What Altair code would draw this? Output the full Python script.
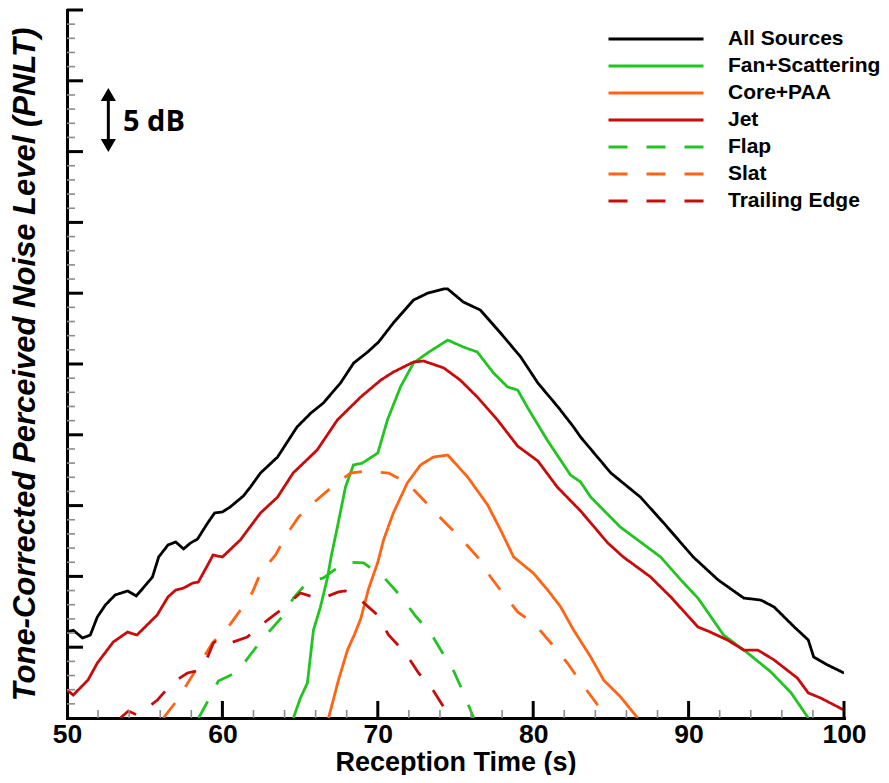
import altair as alt
import pandas as pd

# ---------------- data ----------------
series_names = ["All Sources", "Fan+Scattering", "Core+PAA", "Jet",
                "Flap", "Slat", "Trailing Edge"]
series_colors = ["#000000", "#22C422", "#FF6414", "#C80C0C",
                 "#22C422", "#FF6414", "#C80C0C"]
series_dash = [[1, 0], [1, 0], [1, 0], [1, 0], [19, 19], [19, 19], [19, 19]]

all_x = [50.0, 50.4, 51.0, 51.5, 51.95, 52.47, 53.1, 53.9, 54.45, 54.9, 55.5, 55.9, 56.5,
         57.0, 57.5, 57.95, 58.4, 59.05, 59.5, 60.0, 60.5, 61.35, 61.8, 62.45, 63.55, 64.8,
         65.7, 66.5, 67.6, 68.45, 69.35, 70.05, 71.0, 72.3, 73.2, 74.25, 74.5, 75.5, 76.6,
         77.9, 79.2, 80.3, 81.6, 82.6, 83.05, 85.0, 86.9, 88.4, 90.3, 91.9, 93.55, 94.65,
         95.5, 96.8, 97.7, 98.05, 98.95, 100.0]
all_y = [6.07, 6.2, 5.65, 5.86, 7.13, 7.98, 8.69, 8.97, 8.62, 9.18, 9.96, 11.37, 12.22,
         12.43, 11.94, 12.36, 12.64, 13.77, 14.48, 14.55, 14.9, 15.68, 16.31, 17.3, 18.43,
         20.55, 21.54, 22.25, 23.66, 25.07, 25.85, 26.55, 27.9, 29.52, 30.0, 30.3, 30.3,
         29.38, 28.81, 27.19, 25.49, 23.66, 21.96, 20.55, 19.84, 17.3, 15.6, 13.77, 11.37,
         9.75, 8.47, 8.33, 7.84, 6.43, 5.51, 4.31, 3.74, 3.18]

fan_x = [64.57, 65.02, 65.47, 65.86, 66.3, 66.76, 67.0, 67.4, 67.92, 68.43, 69.0, 70.0,
         70.62, 71.46, 72.3, 73.2, 74.5, 75.5, 76.4, 77.45, 78.35, 79.0, 79.65, 80.9, 82.4,
         83.05, 83.7, 85.6, 88.2, 89.5, 90.6, 92.25, 93.8, 95.3, 96.6, 97.7]
fan_y = [0.0, 1.41, 2.47, 6.21, 7.8, 9.9, 11.4, 13.49, 16.31, 17.87, 18.0, 18.71, 21.05,
         23.38, 25.07, 25.78, 26.69, 26.2, 25.85, 24.36, 23.38, 23.16, 21.9, 19.63, 17.16,
         16.67, 15.6, 13.49, 11.37, 9.75, 8.47, 5.86, 4.59, 3.25, 1.77, 0.0]

core_x = [66.83, 67.47, 68.05, 68.5, 68.9, 69.4, 70.0, 70.37, 71.0, 71.9, 72.75, 73.58,
          74.5, 75.78, 77.07, 77.9, 78.74, 80.0, 80.93, 81.77, 82.6, 83.7, 84.53, 85.63,
          86.72]
core_y = [0.0, 2.68, 4.8, 5.9, 7.0, 9.1, 11.0, 12.57, 14.48, 16.6, 17.87, 18.43, 18.57,
          17.02, 15.04, 13.28, 11.37, 10.24, 9.04, 7.84, 6.21, 4.31, 2.68, 1.48, 0.0]

jet_x = [50.0, 50.4, 51.35, 51.95, 52.98, 53.9, 54.5, 55.8, 56.5, 57.0, 57.5, 58.1, 58.45,
         59.05, 59.4, 60.0, 61.15, 62.45, 63.55, 64.55, 66.1, 67.4, 68.9, 70.2, 71.0, 72.3,
         72.95, 74.25, 75.3, 76.4, 77.7, 79.0, 80.3, 81.55, 83.05, 84.8, 85.8, 87.55, 88.85,
         90.6, 91.25, 92.5, 93.55, 94.45, 95.5, 97.0, 97.7, 98.5, 100.0]
jet_y = [1.98, 1.62, 2.68, 3.88, 5.37, 6.07, 5.86, 7.27, 8.55, 9.04, 9.18, 9.53, 9.6, 10.8,
         11.51, 11.37, 12.57, 14.48, 15.6, 17.3, 18.93, 21.05, 22.67, 23.87, 24.43, 25.14,
         25.21, 24.72, 23.87, 22.67, 21.05, 19.2, 18.15, 16.31, 14.62, 12.36, 11.37, 9.96,
         8.55, 6.43, 6.14, 5.51, 4.8, 4.8, 4.1, 2.82, 1.77, 1.41, 0.56]

flap_x = [58.47, 59.1, 59.74, 60.97, 61.93, 62.64, 63.73, 64.57, 65.47, 66.5, 67.92, 69.08,
          70.37, 71.46, 72.43, 73.4, 74.17, 74.88, 75.46, 76.17]
flap_y = [0.0, 1.27, 2.61, 3.25, 4.66, 5.65, 6.99, 8.47, 9.6, 9.89, 11.02, 10.95, 9.96,
          8.62, 7.2, 6.0, 4.59, 3.32, 1.91, 0.0]

slat_x = [56.2, 57.1, 59.36, 60.33, 61.17, 61.94, 62.45, 63.42, 64.2, 64.9, 66.0, 66.96,
          68.24, 69.34, 70.7, 71.9, 73.07, 74.17, 75.33, 76.42, 77.26, 78.03, 79.0, 80.15,
          81.25, 82.2, 83.05, 84.1, 84.7]
slat_y = [0.0, 1.27, 5.3, 6.36, 7.63, 8.9, 10.24, 11.51, 13.07, 14.2, 15.32, 16.24, 17.3,
          17.44, 17.3, 16.6, 15.25, 13.98, 12.71, 11.37, 9.96, 8.83, 7.49, 6.57, 5.15, 3.88,
          2.54, 0.99, 0.0]

te_x = [53.43, 53.95, 54.53, 55.17, 55.82, 56.78, 57.75, 58.58, 58.84, 59.42, 59.87, 60.51,
        61.6, 62.9, 63.93, 65.02, 66.3, 67.47, 67.92, 68.76, 69.98, 70.69, 71.78, 72.62,
        73.59, 74.36, 74.81]
te_y = [0.0, 0.49, 0.21, 0.71, 1.27, 2.47, 3.18, 3.39, 3.74, 5.3, 5.65, 5.3, 5.72, 6.92,
        7.77, 8.83, 8.4, 8.9, 8.97, 8.47, 7.27, 5.86, 4.59, 3.18, 1.91, 0.56, 0.0]

x_tick_labels = [50, 60, 70, 80, 90, 100]
x_major_ticks = [60, 70, 80, 90, 100]
x_minor_ticks = [v for v in range(52, 100, 2) if v % 10 != 0]
y_major_ticks = list(range(5, 51, 5))
y_minor_ticks = [v for v in range(1, 50) if v % 5 != 0]

# "5 dB" scale annotation
arrow_x = [52.66]
arrow_y = [40.43]
arrow_y2 = [44.03]
arrow_label = ["5 dB"]
arrow_label_x = [53.6]
arrow_label_y = [42.1]

# ---------------- build tables ----------------
pairs = [(all_x, all_y), (fan_x, fan_y), (core_x, core_y), (jet_x, jet_y),
         (flap_x, flap_y), (slat_x, slat_y), (te_x, te_y)]
rows = []
for name, (xs, ys) in zip(series_names, pairs):
    for i, (a, b) in enumerate(zip(xs, ys)):
        rows.append({"series": name, "t": a, "v": b, "i": i})
df = pd.DataFrame(rows)

W, H = 777, 708
FONT = "Liberation Sans"

xscale = alt.Scale(domain=[50, 100], nice=False, zero=False)
yscale = alt.Scale(domain=[0, 50], nice=False, zero=False)

# legend symbol: a long horizontal stroke drawn by a custom path (small nominal size)
legend_kw = dict(title=None, orient="none", legendX=578, legendY=18,
                 symbolType="M-5,0H5", symbolSize=361, symbolStrokeWidth=2.8,
                 symbolFillColor="transparent",
                 labelFont=FONT, labelFontSize=21, labelFontWeight="bold",
                 labelColor="black", labelOffset=61, padding=0, rowPadding=6)

lines = alt.Chart(df).mark_line(clip=True, strokeWidth=2.8, strokeCap="butt").encode(
    x=alt.X("t:Q", scale=xscale,
            axis=alt.Axis(title="Reception Time (s)", values=x_tick_labels, ticks=False,
                          grid=False, domainWidth=3, domainColor="black", domainCap="square",
                          labelFont=FONT, labelFontSize=26.5, labelFontWeight="bold",
                          labelColor="black", labelPadding=3, labelFlush=False,
                          titleFont=FONT, titleFontSize=27, titleFontWeight="bold",
                          titleColor="black", titleBaseline="alphabetic", titleY=52)),
    y=alt.Y("v:Q", scale=yscale,
            axis=alt.Axis(title="Tone-Corrected Perceived Noise Level (PNLT)", labels=False,
                          ticks=False, grid=False, domainWidth=3, domainColor="black",
                          domainCap="square",
                          titleFont=FONT, titleFontSize=31, titleFontWeight="bold",
                          titleFontStyle="italic", titleColor="black", titlePadding=26)),
    color=alt.Color("series:N", scale=alt.Scale(domain=series_names, range=series_colors),
                    legend=alt.Legend(**legend_kw)),
    strokeDash=alt.StrokeDash("series:N",
                              scale=alt.Scale(domain=series_names, range=series_dash),
                              legend=alt.Legend(**legend_kw)),
    order="i:Q",
)

ym = pd.DataFrame({"v": y_major_ticks})
yn = pd.DataFrame({"v": y_minor_ticks})
xm = pd.DataFrame({"t": x_major_ticks})
xn = pd.DataFrame({"t": x_minor_ticks})

y_major = alt.Chart(ym).mark_rule(color="black", strokeWidth=3).encode(
    y=alt.Y("v:Q", scale=yscale), x=alt.value(0), x2=alt.value(16))
y_minor = alt.Chart(yn).mark_rule(color="#8c8c8c", strokeWidth=1.6).encode(
    y=alt.Y("v:Q", scale=yscale), x=alt.value(0), x2=alt.value(8))
x_major = alt.Chart(xm).mark_rule(color="black", strokeWidth=3).encode(
    x=alt.X("t:Q", scale=xscale), y=alt.value(H), y2=alt.value(H - 17))
x_minor = alt.Chart(xn).mark_rule(color="#8c8c8c", strokeWidth=1.6).encode(
    x=alt.X("t:Q", scale=xscale), y=alt.value(H), y2=alt.value(H - 8))

adf = pd.DataFrame({"t": arrow_x, "v": arrow_y, "v2": arrow_y2})
shaft = alt.Chart(adf).mark_rule(color="black", strokeWidth=3).encode(
    x=alt.X("t:Q", scale=xscale), y=alt.Y("v:Q", scale=yscale), y2="v2:Q")
head_up = alt.Chart(adf).mark_point(shape="triangle-up", filled=True, color="black",
                                    size=230, opacity=1).encode(
    x=alt.X("t:Q", scale=xscale), y=alt.Y("v2:Q", scale=yscale))
head_dn = alt.Chart(adf).mark_point(shape="triangle-down", filled=True, color="black",
                                    size=230, opacity=1).encode(
    x=alt.X("t:Q", scale=xscale), y=alt.Y("v:Q", scale=yscale))
tdf = pd.DataFrame({"t": arrow_label_x, "v": arrow_label_y, "txt": arrow_label})
label = alt.Chart(tdf).mark_text(align="left", baseline="middle", font="Open Sans",
                                 fontSize=29, fontWeight="bold", color="black").encode(
    x=alt.X("t:Q", scale=xscale), y=alt.Y("v:Q", scale=yscale), text="txt:N")

chart = alt.layer(lines, y_minor, y_major, x_minor, x_major, shaft, head_up, head_dn,
                  label).properties(
    width=W, height=H,
    autosize=alt.AutoSizeParams(type="none"),
    padding={"left": 59, "top": 2, "right": 36, "bottom": 57},
).configure_view(stroke=None).configure_axis(grid=False)

chart.save("out.html", embed_options={"renderer": "svg", "actions": False})
